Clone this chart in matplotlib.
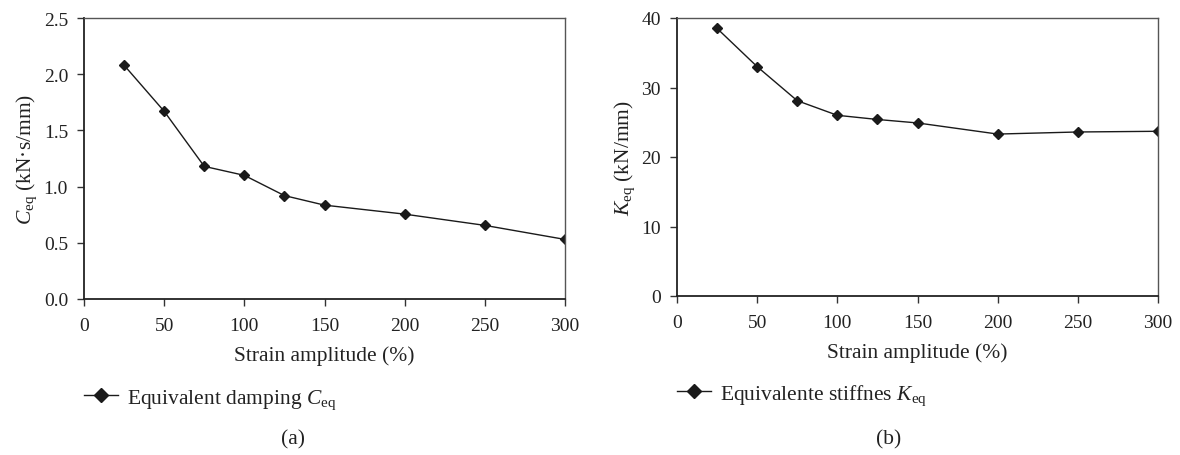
import matplotlib
matplotlib.use('Agg')
import matplotlib.pyplot as plt

# ------------------------------------------------------------
# data
# ------------------------------------------------------------
strain = [25, 50, 75, 100, 125, 150, 200, 250, 300]
c_eq = [2.08, 1.67, 1.18, 1.10, 0.92, 0.835, 0.755, 0.655, 0.53]
k_eq = [38.5, 33.0, 28.1, 26.0, 25.4, 24.9, 23.3, 23.6, 23.7]

x_ticks = [0, 50, 100, 150, 200, 250, 300]
c_ticks = [0.0, 0.5, 1.0, 1.5, 2.0, 2.5]
k_ticks = [0, 10, 20, 30, 40]

plt.rcParams['font.family'] = ['Liberation Serif', 'DejaVu Serif']
plt.rcParams['mathtext.fontset'] = 'custom'
plt.rcParams['mathtext.rm'] = 'Liberation Serif'
plt.rcParams['mathtext.it'] = 'Liberation Serif:italic'

TICK_FS = 14
LABEL_FS = 15.5
TXT = '#222222'

fig = plt.figure(figsize=(11.8, 4.56), dpi=100)
W, H = 1180, 456


def make_axes(left_px, right_px, top_px, bottom_px):
    return fig.add_axes([left_px / W, 1 - bottom_px / H,
                         (right_px - left_px) / W, (bottom_px - top_px) / H])


def style(ax):
    for side in ['left', 'bottom']:
        ax.spines[side].set_color('#222222')
        ax.spines[side].set_linewidth(1.3)
    for side in ['top', 'right']:
        ax.spines[side].set_color('#555555')
        ax.spines[side].set_linewidth(1.0)
    ax.tick_params(direction='out', length=5, width=1.0, color='#333333',
                   labelsize=TICK_FS, labelcolor=TXT)
    ax.tick_params(axis='y', pad=6.5)
    ax.tick_params(axis='x', pad=8)
    ax.set_xlim(0, 300)
    ax.set_xticks(x_ticks)
    ax.set_xlabel('Strain amplitude (%)', fontsize=LABEL_FS, color=TXT, labelpad=8)


line_kw = dict(color='#1a1a1a', linewidth=1.0, marker='D', markersize=5.5,
               markerfacecolor='#1a1a1a', markeredgecolor='#1a1a1a')

# (a) equivalent damping
ax1 = make_axes(84, 565, 19, 300)
l1, = ax1.plot(strain, c_eq, label=r'Equivalent damping $C_{\rm eq}$', **line_kw)
style(ax1)
ax1.set_ylim(0, 2.5)
ax1.set_yticks(c_ticks)
ax1.set_yticklabels([f'{v:.1f}' for v in c_ticks])
ax1.set_ylabel(r'$C_{\rm eq}$ (kN·s/mm)', fontsize=LABEL_FS, color=TXT, labelpad=3)

# (b) equivalent stiffness
ax2 = make_axes(677, 1158, 19, 297)
l2, = ax2.plot(strain, k_eq, label=r'Equivalente stiffnes $K_{\rm eq}$', **line_kw)
style(ax2)
ax2.set_ylim(0, 40)
ax2.set_yticks(k_ticks)
ax2.set_ylabel(r'$K_{\rm eq}$ (kN/mm)', fontsize=LABEL_FS, color=TXT, labelpad=3)

for ax, h in [(ax1, l1), (ax2, l2)]:
    ax.legend(handles=[h], loc='center left', bbox_to_anchor=(0.0, -0.355),
              frameon=False, fontsize=LABEL_FS, handlelength=1.6,
              handletextpad=0.4, markerscale=1.35, borderaxespad=0,
              borderpad=0, labelcolor=TXT)

fig.text(293 / W, 1 - 440 / H, '(a)', ha='center', va='center', fontsize=LABEL_FS, color=TXT)
fig.text(889 / W, 1 - 440 / H, '(b)', ha='center', va='center', fontsize=LABEL_FS, color=TXT)

fig.savefig('out.png', dpi=100)
